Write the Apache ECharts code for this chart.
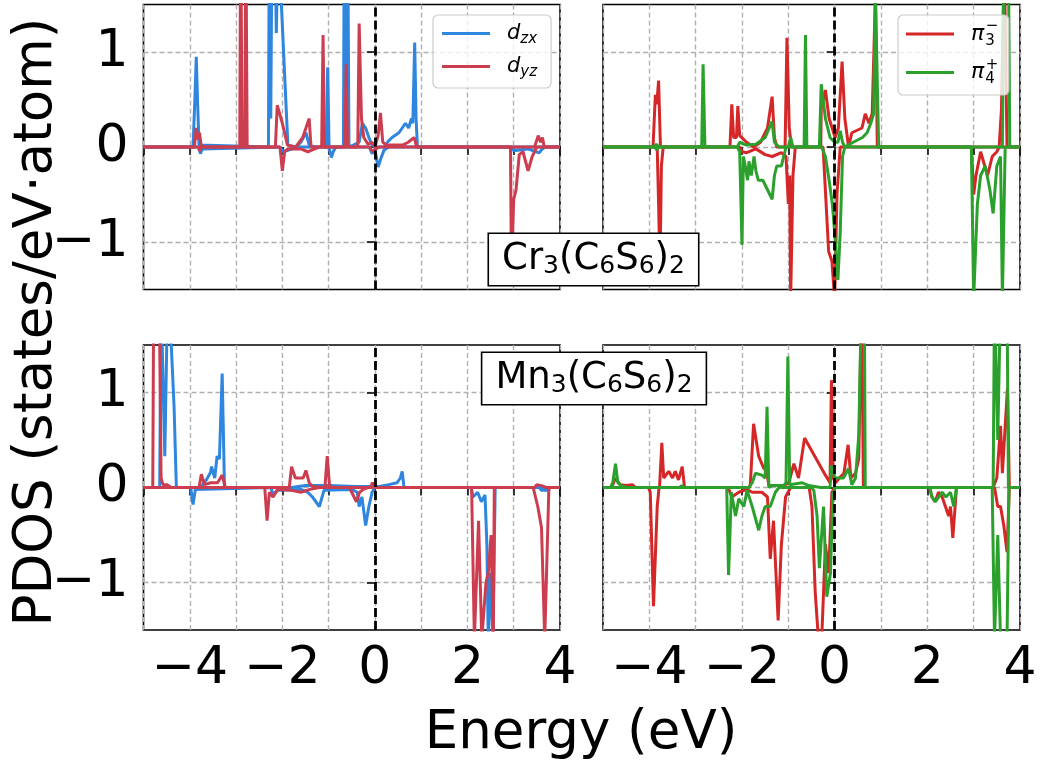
<!DOCTYPE html>
<html>
<head>
<meta charset="utf-8">
<script src="https://cdn.jsdelivr.net/npm/echarts@6/dist/echarts.min.js"></script>
<style>
html, body { margin: 0; padding: 0; background: #fff; }
#chart { width: 1042px; height: 762px; }
</style>
</head>
<body>
<div id="chart"></div>
<script>
// Projected DOS, spin up (positive) and spin down (negative), energy in eV relative to E_F.

// Cr3(C6S6)2 — metal d_zx / d_yz
const crDzxUp = [[-5,0],[-3.93,0],[-3.89,0.5],[-3.86,0.95],[-3.83,0.45],[-3.8,0.02],[-3.76,0],[-2.3,0],[-2.28,2.5],[-2.25,0.3],[-2.22,2.5],[-2.17,2.5],[-2.13,1.2],[-2.08,2.5],[-2.03,1.6],[-1.88,0.02],[-1.7,0],[-1.6,0.05],[-1.49,0.15],[-1.42,0.02],[-1.3,0],[-1.05,0],[-1.02,0.84],[-0.99,0],[-0.68,0],[-0.66,2.5],[-0.63,0.5],[-0.59,2.5],[-0.56,0],[-0.34,0.05],[-0.27,0.25],[-0.2,0.2],[-0.13,0.1],[-0.06,0.02],[0.02,0],[0.2,0],[0.27,0.05],[0.37,0.1],[0.52,0.15],[0.59,0.2],[0.66,0.25],[0.73,0.2],[0.79,0.3],[0.82,0.25],[0.86,1.1],[0.89,0.3],[0.92,0],[4,0]];
const crDzxDn = [[-5,0],[-3.8,0],[-3.77,-0.07],[-3.73,-0.02],[-3.7,0],[-2.05,0],[-1.98,-0.05],[-1.85,-0.03],[-1.7,0],[-1.0,0],[-0.97,-0.05],[-0.94,-0.11],[-0.9,-0.05],[-0.85,0],[-0.12,0],[-0.06,-0.07],[0.0,-0.02],[0.07,-0.21],[0.13,-0.12],[0.2,-0.03],[0.3,0],[2.95,0],[3.0,-0.04],[3.3,-0.02],[3.55,-0.06],[3.62,-0.02],[3.68,0],[4,0]];
const crDyzUp = [[-5,0],[-3.9,0],[-3.86,0.2],[-3.82,0.08],[-3.79,0.15],[-3.75,0],[-2.92,0],[-2.9,2.5],[-2.87,0],[-2.81,0],[-2.79,2.5],[-2.76,0],[-2.15,0],[-2.11,0.44],[-2.0,0.25],[-1.89,0.02],[-1.71,0],[-1.56,0.1],[-1.42,0.3],[-1.38,0],[-1.15,0],[-1.12,1.18],[-1.09,0],[-0.65,0],[-0.62,0.87],[-0.59,0],[-0.37,0],[-0.34,1.3],[-0.29,0.3],[-0.24,0.1],[-0.15,0.03],[-0.06,0.05],[0,0],[0.07,0.12],[0.12,0.36],[0.17,0.05],[0.25,0.02],[0.6,0.02],[0.72,0.05],[0.85,0.1],[0.9,0],[3.45,0],[3.53,0.12],[3.58,0.05],[3.62,0.1],[3.66,0],[4,0]];
const crDyzDn = [[-5,0],[-3.82,0],[-3.79,-0.04],[-3.75,0],[-2.05,0],[-2.0,-0.25],[-1.95,-0.05],[-1.88,-0.02],[-1.6,-0.02],[-1.45,-0.05],[-1.3,-0.02],[-1.2,0],[-0.12,0],[-0.05,-0.05],[0.02,-0.02],[0.1,0],[2.93,0],[2.95,-1.3],[3.0,-0.55],[3.05,-0.45],[3.12,-0.08],[3.2,-0.05],[3.31,-0.25],[3.4,-0.1],[3.5,0],[4,0]];

// Cr3(C6S6)2 — ligand π states
const crPi3Up = [[-5,0],[-3.92,0],[-3.87,0.55],[-3.84,0.45],[-3.8,0.7],[-3.76,0],[-2.26,0],[-2.22,0.45],[-2.18,0.1],[-2.12,0.1],[-2.09,0.43],[-2.05,0.12],[-1.9,0.05],[-1.75,0],[-1.6,0.05],[-1.45,0.2],[-1.35,0.53],[-1.3,0.1],[-1.25,0],[-1.07,0],[-1.03,1.15],[-0.98,0.2],[-0.93,0],[-0.3,0],[-0.29,0.4],[-0.2,0.6],[-0.12,0.3],[0.01,0.1],[0.08,0.2],[0.16,0.9],[0.22,0.3],[0.3,0],[0.37,0.15],[0.59,0.2],[0.66,0.35],[0.74,0.25],[0.81,0.35],[0.88,1.6],[0.92,0],[3.55,0],[3.6,0.4],[3.66,2],[3.72,0],[4,0]];
const crPi3Dn = [[-5,0],[-3.83,0],[-3.8,-0.6],[-3.77,-1.3],[-3.74,-0.2],[-3.7,0],[-2.05,0],[-2.0,-0.05],[-1.9,-0.06],[-1.7,-0.02],[-1.5,-0.08],[-1.35,-0.1],[-1.15,-0.06],[-1.05,-0.1],[-1.0,-0.6],[-0.97,-0.3],[-0.95,-1.6],[-0.9,-0.3],[-0.85,0],[-0.25,0],[-0.13,-1.1],[-0.06,-1.2],[0.0,-1.6],[0.05,-0.5],[0.12,0],[2.95,0],[3.0,-0.5],[3.05,-0.3],[3.15,-0.05],[3.3,-0.3],[3.4,-0.1],[3.5,-0.05],[3.55,0],[4,0]];
const crPi4Up = [[-5,0],[-3.9,0],[-3.85,0.03],[-3.8,0],[-2.87,0],[-2.84,0.87],[-2.8,0],[-2.1,0],[-2.05,0.05],[-1.9,0.02],[-1.7,0.03],[-1.5,0.1],[-1.35,0.27],[-1.3,0.05],[-1.2,0],[-1.0,0],[-0.95,0.1],[-0.9,0],[-0.66,0],[-0.63,1.18],[-0.6,0],[-0.33,0],[-0.29,0.66],[-0.2,0.3],[-0.1,0.1],[0,0.05],[0.07,0.05],[0.12,0.17],[0.17,0.05],[0.22,0],[0.4,0.05],[0.6,0.1],[0.7,0.15],[0.78,0.25],[0.84,0.35],[0.88,1.6],[0.95,0],[3.62,0],[3.65,2],[3.75,2],[3.78,0],[4,0]];
const crPi4Dn = [[-5,0],[-3.88,0],[-3.84,-0.03],[-3.8,0],[-2.1,0],[-2.05,-0.05],[-2.0,-1.03],[-1.97,-0.1],[-1.93,-0.2],[-1.88,-0.35],[-1.85,-0.15],[-1.8,-0.3],[-1.74,-0.1],[-1.7,-0.25],[-1.65,-0.35],[-1.55,-0.35],[-1.45,-0.45],[-1.35,-0.55],[-1.3,-0.3],[-1.25,-0.2],[-1.15,-0.2],[-1.1,-0.1],[-1.05,0],[-0.28,0],[-0.2,-0.1],[-0.12,-0.35],[-0.05,-0.6],[0.0,-0.9],[0.07,-1.4],[0.12,-0.9],[0.17,-0.1],[0.22,0],[2.95,0],[3.0,-1.6],[3.08,-0.6],[3.15,-0.3],[3.25,-0.2],[3.35,-0.45],[3.42,-0.7],[3.5,-0.2],[3.58,-0.1],[3.62,-1.6],[3.68,0],[4,0]];

// Mn3(C6S6)2 — metal d_zx / d_yz
const mnDzxUp = [[-5,0],[-4.65,0],[-4.62,2],[-4.54,0.33],[-4.48,2],[-4.4,1.5],[-4.34,0.86],[-4.29,0],[-3.75,0],[-3.7,0.05],[-3.64,0.08],[-3.55,0.16],[-3.53,0.22],[-3.46,0.1],[-3.41,0.33],[-3.36,0.3],[-3.3,1.2],[-3.25,0],[-1.8,0],[-1.5,0.02],[-1.0,0.02],[-0.4,0.01],[0.1,0.01],[0.3,0.03],[0.48,0.05],[0.55,0.1],[0.59,0.17],[0.63,0],[4,0]];
const mnDzxDn = [[-5,0],[-3.98,0],[-3.93,-0.18],[-3.88,-0.02],[-3.84,0],[-2.25,0],[-2.2,-0.07],[-2.1,-0.03],[-1.6,-0.02],[-1.45,-0.05],[-1.35,-0.1],[-1.2,-0.2],[-1.1,-0.03],[-0.5,-0.02],[-0.38,-0.05],[-0.34,-0.2],[-0.28,-0.1],[-0.2,-0.4],[-0.13,-0.2],[-0.06,-0.05],[0,0],[2.08,0],[2.12,-0.1],[2.22,-0.05],[2.3,-0.15],[2.38,-0.08],[2.42,-0.6],[2.45,-1.6],[2.5,-0.9],[2.55,-1.6],[2.58,-1.6],[2.6,0],[3.55,0],[3.6,-0.03],[3.75,-0.03],[3.78,0],[4,0]];
const mnDyzUp = [[-5,0],[-4.8,0],[-4.78,2],[-4.66,2],[-4.62,0.1],[-4.58,0.03],[-4.5,0.03],[-4.4,0],[-3.8,0],[-3.75,0.14],[-3.68,0.03],[-3.55,0.05],[-3.4,0.05],[-3.3,0.13],[-3.23,0],[-1.85,0],[-1.8,0.22],[-1.72,0.1],[-1.55,0.1],[-1.49,0.18],[-1.42,0.05],[-1.35,0.01],[-1.08,0],[-1.03,0.33],[-0.98,0.02],[-0.9,0],[-0.1,0],[-0.05,0.05],[0,0],[3.45,0],[3.5,0.03],[3.6,0.02],[3.7,0],[4,0]];
const mnDyzDn = [[-5,0],[-2.38,0],[-2.33,-0.35],[-2.28,-0.05],[-2.2,-0.1],[-2.1,-0.02],[-1.8,-0.03],[-1.6,-0.05],[-1.4,-0.02],[-1.2,0],[-0.55,0],[-0.45,-0.1],[-0.4,-0.15],[-0.33,-0.05],[-0.25,-0.02],[-0.15,0],[2.09,0],[2.15,-1.6],[2.24,-0.35],[2.31,-1.6],[2.4,-1.0],[2.45,-0.9],[2.51,-0.5],[2.56,-1.6],[2.58,0],[3.42,0],[3.52,-0.2],[3.6,-0.42],[3.67,-1.6],[3.76,0],[4,0]];

// Mn3(C6S6)2 — ligand π states
const mnPi3Up = [[-5,0],[-4.82,0],[-4.77,0.05],[-4.73,0.1],[-4.63,0.03],[-4.5,0.02],[-4.37,0.03],[-4.3,0],[-3.78,0],[-3.73,0.47],[-3.69,0.1],[-3.58,0.17],[-3.5,0.1],[-3.44,0.17],[-3.37,0.08],[-3.29,0.22],[-3.24,0],[-1.85,0],[-1.82,0.03],[-1.75,0.67],[-1.64,0.33],[-1.53,0.2],[-1.48,0.2],[-1.42,0.02],[-1.1,0.02],[-0.99,0.05],[-0.88,0.25],[-0.78,0.1],[-0.65,0.52],[-0.2,0.13],[-0.1,0.05],[-0.07,1.13],[-0.03,0.1],[0.02,0.05],[0.1,0.1],[0.2,0.15],[0.29,0.45],[0.35,0.1],[0.45,0.15],[0.52,0.3],[0.58,2],[0.62,0],[3.42,0],[3.5,0.1],[3.58,0.65],[3.62,0.15],[3.73,1.05],[3.77,0],[4,0]];
const mnPi3Dn = [[-5,0],[-4.02,0],[-3.98,-0.05],[-3.91,-1.25],[-3.83,-0.2],[-3.79,0],[-2.3,0],[-2.22,-0.1],[-2.07,-0.05],[-1.9,-0.02],[-1.78,-0.05],[-1.57,-0.05],[-1.45,-0.1],[-1.39,-0.75],[-1.32,-0.35],[-1.22,-1.4],[-1.15,-0.6],[-1.06,-0.1],[-0.95,0],[-0.55,0],[-0.49,-0.2],[-0.42,-1.1],[-0.35,-1.6],[-0.28,-1.6],[-0.2,-0.6],[-0.13,-0.9],[-0.06,-0.05],[0,0],[2.05,0],[2.1,-0.1],[2.17,-0.15],[2.24,-0.05],[2.32,-0.1],[2.46,-0.3],[2.5,-0.2],[2.55,-0.53],[2.63,0],[3.45,0],[3.52,-0.2],[3.58,-0.2],[3.65,-0.4],[3.72,-0.68],[3.77,0],[4,0]];
const mnPi4Up = [[-5,0],[-4.84,0],[-4.79,0.05],[-4.73,0.25],[-4.68,0.05],[-4.6,0.02],[-4.5,0],[-3.35,0],[-3.3,0.02],[-3.25,0],[-1.85,0],[-1.78,0.05],[-1.71,0.15],[-1.57,0.13],[-1.5,0.1],[-1.46,0.85],[-1.42,0],[-1.35,0.02],[-1.1,0.02],[-1.05,0.05],[-1.01,1.38],[-0.97,0.03],[-0.7,0.05],[-0.56,0.02],[-0.3,0],[-0.1,0],[-0.07,0.23],[0.01,0.1],[0.19,0.1],[0.3,0.2],[0.37,0.03],[0.45,0.1],[0.52,0.55],[0.58,2],[0.64,2],[0.66,0],[3.42,0],[3.45,2],[3.52,0.5],[3.58,2],[3.72,2],[3.75,0],[4,0]];
const mnPi4Dn = [[-5,0],[-2.33,0],[-2.29,-0.92],[-2.23,-0.05],[-2.14,-0.3],[-2.07,-0.12],[-1.96,-0.2],[-1.89,-0.03],[-1.78,-0.2],[-1.64,-0.45],[-1.57,-0.3],[-1.5,-0.2],[-1.39,-0.2],[-1.28,-0.05],[-1.2,0],[-0.5,0],[-0.45,-0.03],[-0.38,-0.3],[-0.33,-0.85],[-0.24,-0.2],[-0.17,-1.15],[-0.09,-0.9],[-0.04,-0.1],[0,0],[2.05,0],[2.1,-0.1],[2.17,-0.15],[2.32,-0.05],[2.4,-0.1],[2.5,-0.05],[2.57,-0.2],[2.63,0],[3.4,0],[3.45,-1.6],[3.52,-0.5],[3.58,-1.6],[3.72,-1.6],[3.76,0],[4,0]];

const compounds = ['Cr3(C6S6)2', 'Mn3(C6S6)2'];
const energyRange = [-5, 4];
const dosRange = [-1.5, 1.5];
const dosTicks = [-1, 0, 1];

const FONT = 'DejaVu Sans';
const C_DZX = '#2e86de', C_DYZ = '#cc3d50', C_PI3 = '#d62728', C_PI4 = '#2ca02c';
const LW = 3;

const panels = [
  { left: 143.5, top: 4.5, width: 416.5, height: 285 },
  { left: 603, top: 4.5, width: 417, height: 285 },
  { left: 143.5, top: 345, width: 416.5, height: 285 },
  { left: 603, top: 345, width: 417, height: 285 }
];

const minus = v => String(v).replace('-', '\u2212');
const gridLine = { color: '#b0b0b0', width: 1.4, type: [5, 3] };

const grid = panels.map(p => Object.assign({
  show: true, borderColor: '#000', borderWidth: 1.6, backgroundColor: 'transparent', containLabel: false
}, p));

const xAxis = panels.map((p, i) => ({
  type: 'value', gridIndex: i, min: energyRange[0], max: energyRange[1], interval: 1,
  axisLine: { show: false },
  axisTick: { show: true, length: 8, lineStyle: { color: '#000', width: 1.5 } },
  axisLabel: {
    show: i >= 2, fontSize: 52, fontFamily: FONT, color: '#000', margin: 13,
    formatter: v => (v % 2 === 0 ? minus(v) : '')
  },
  splitLine: { show: true, lineStyle: gridLine }
}));

const yAxis = panels.map((p, i) => ({
  type: 'value', gridIndex: i, min: dosRange[0], max: dosRange[1], interval: 0.5,
  axisLine: { show: false },
  axisTick: { show: true, customValues: dosTicks, length: 8, lineStyle: { color: '#000', width: 1.5 } },
  axisLabel: {
    show: i % 2 === 0, customValues: dosTicks, fontSize: 52, fontFamily: FONT, color: '#000', margin: 15,
    formatter: v => minus(v)
  },
  splitLine: { show: true, lineStyle: gridLine }
}));

function curve(name, data, color, idx, extra) {
  return Object.assign({
    type: 'line', name, data, xAxisIndex: idx, yAxisIndex: idx,
    symbol: 'none', showSymbol: false, clip: true, animation: false,
    lineStyle: { color, width: LW }, itemStyle: { color }
  }, extra || {});
}

const fermi = {
  markLine: {
    silent: true, symbol: 'none', animation: false,
    label: { show: false },
    lineStyle: { color: '#000', type: [9, 4], width: 2.8 },
    data: [{ xAxis: 0 }]
  }
};

const series = [
  curve('dzx', crDzxUp, C_DZX, 0), curve('dzx', crDzxDn, C_DZX, 0),
  curve('dyz', crDyzUp, C_DYZ, 0), curve('dyz', crDyzDn, C_DYZ, 0, fermi),
  curve('pi3', crPi3Up, C_PI3, 1), curve('pi3', crPi3Dn, C_PI3, 1),
  curve('pi4', crPi4Up, C_PI4, 1), curve('pi4', crPi4Dn, C_PI4, 1, fermi),
  curve('dzx', mnDzxUp, C_DZX, 2), curve('dzx', mnDzxDn, C_DZX, 2),
  curve('dyz', mnDyzUp, C_DYZ, 2), curve('dyz', mnDyzDn, C_DYZ, 2, fermi),
  curve('pi3', mnPi3Up, C_PI3, 3), curve('pi3', mnPi3Dn, C_PI3, 3),
  curve('pi4', mnPi4Up, C_PI4, 3), curve('pi4', mnPi4Dn, C_PI4, 3, fermi)
];

const legendRich = {
  g: { width: 12, fontSize: 8 },
  i: { fontSize: 21, fontStyle: 'italic', fontFamily: FONT, color: '#000' },
  s: { fontSize: 15, fontStyle: 'italic', fontFamily: FONT, color: '#000', padding: [12, 0, 0, 0] },
  p: { fontSize: 22, fontStyle: 'italic', fontFamily: FONT, color: '#000' },
  n: { fontSize: 15, fontFamily: FONT, color: '#000', padding: [14, 0, 0, 1] }
};
const legendLabels = {
  dzx: '{g| }{i|d}{s|zx}', dyz: '{g| }{i|d}{s|yz}',
  pi3: '{g| }{p|π}{n|3}', pi4: '{g| }{p|π}{n|4}'
};
const legendBase = {
  orient: 'vertical', icon: 'rect', itemWidth: 48, itemHeight: 3, selectedMode: false,
  backgroundColor: 'rgba(255,255,255,0.8)', borderColor: '#cccccc', borderWidth: 1.2, borderRadius: 5,
  formatter: n => legendLabels[n], textStyle: { rich: legendRich }
};

// subscript the digits of a chemical formula
function formula(s) {
  return s.replace(/(\d)|([^\d]+)/g, (m, d, t) => (d ? '{s|' + d + '}' : '{n|' + t + '}'));
}
const formulaRich = {
  n: { fontSize: 37, fontFamily: FONT, color: '#000' },
  s: { fontSize: 25, fontFamily: FONT, color: '#000', padding: [14, 0, 0, 0] }
};
function formulaBox(text, x, y) {
  return {
    type: 'text', x, y, z: 100,
    style: {
      text: formula(text), rich: formulaRich, align: 'center', verticalAlign: 'middle',
      backgroundColor: '#fff', borderColor: '#000', borderWidth: 1.6, padding: [6, 13, 6, 13]
    }
  };
}
function sup(text, x, y) {
  return { type: 'text', x, y, z: 100, style: { text, fontSize: 15, fontFamily: FONT, fill: '#000', align: 'center', verticalAlign: 'middle' } };
}

const option = {
  animation: false,
  backgroundColor: '#fff',
  grid, xAxis, yAxis, series,
  legend: [
    Object.assign({}, legendBase, { data: ['dzx', 'dyz'], left: 433, top: 15, itemGap: 9, padding: [8, 14, 8, 9] }),
    Object.assign({}, legendBase, { data: ['pi3', 'pi4'], left: 898, top: 15, itemGap: 13, padding: [8, 14, 8, 8] })
  ],
  graphic: [
    { type: 'text', x: 37, y: 322, rotation: Math.PI / 2,
      style: { text: 'PDOS (states/eV\u00b7atom)', fontSize: 53, fontFamily: FONT, fill: '#000', align: 'center', verticalAlign: 'middle' } },
    { type: 'text', x: 581, y: 734,
      style: { text: 'Energy (eV)', fontSize: 53, fontFamily: FONT, fill: '#000', align: 'center', verticalAlign: 'middle' } },
    formulaBox(compounds[0], 593.5, 259.5),
    formulaBox(compounds[1], 594, 378.5),
    sup('\u2212', 992, 26),
    sup('+', 992, 65)
  ]
};

const chart = echarts.init(document.getElementById('chart'), null, { renderer: 'canvas' });
chart.setOption(option);
</script>
</body>
</html>
